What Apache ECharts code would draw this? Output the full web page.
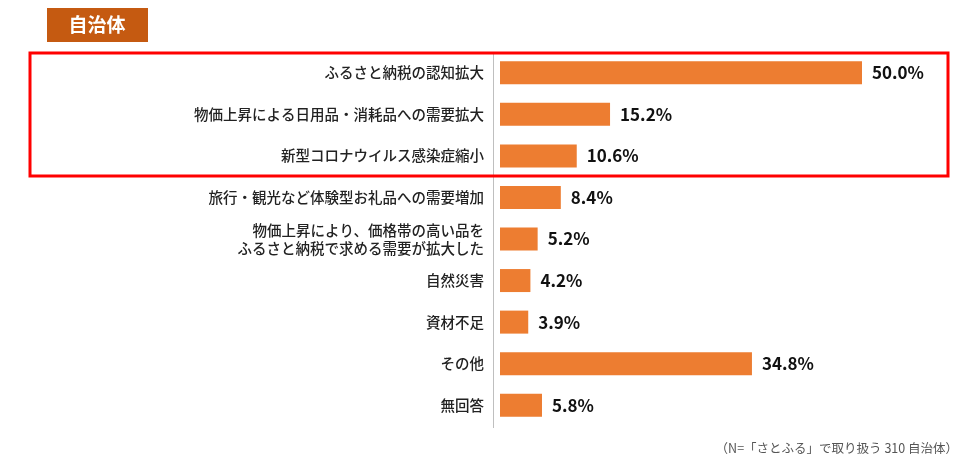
<!DOCTYPE html>
<html>
<head>
<meta charset="utf-8">
<script src="https://cdn.jsdelivr.net/npm/echarts@6/dist/echarts.min.js"></script>
</head>
<body style="margin:0">
<div id="main" style="width:980px;height:471px"></div>
<script>
var categories = ['ふるさと納税の認知拡大', '物価上昇による日用品・消耗品への需要拡大', '新型コロナウイルス感染症縮小',
  '旅行・観光など体験型お礼品への需要増加', '物価上昇により、価格帯の高い品を\nふるさと納税で求める需要が拡大した',
  '自然災害', '資材不足', 'その他', '無回答'];
var values = [50.0, 15.2, 10.6, 8.4, 5.2, 4.2, 3.9, 34.8, 5.8];

var chart = echarts.init(document.getElementById('main'));
var font = '"Noto Sans CJK JP", sans-serif';
chart.setOption({
  animation: false,
  textStyle: { fontFamily: font },
  grid: { left: 500, top: 52, width: 362, height: 374 },
  xAxis: { type: 'value', min: 0, max: 50, show: false },
  yAxis: {
    type: 'category', inverse: true, data: categories,
    axisLine: { show: false },
    axisTick: { show: false },
    axisLabel: { color: '#222', fontSize: 14.5, fontWeight: 500, margin: 16, lineHeight: 18, fontFamily: font }
  },
  series: [{
    type: 'bar', data: values, barWidth: 23,
    itemStyle: { color: '#ED7D31' },
    label: {
      show: true, position: 'right', distance: 10, color: '#111', fontSize: 17, fontWeight: 'bold',
      fontFamily: font,
      formatter: function (p) { return p.value.toFixed(1) + '%'; }
    }
  }],
  graphic: [
    { type: 'line', shape: { x1: 493.5, y1: 52, x2: 493.5, y2: 428 }, style: { stroke: '#bfbfbf', lineWidth: 1 } },
    { type: 'rect', shape: { x: 47, y: 8, width: 101, height: 34 }, style: { fill: '#C55A11' } },
    { type: 'text', x: 97, y: 25, style: { text: '自治体', fill: '#fff', fontSize: 19, fontWeight: 'bold',
      fontFamily: font, align: 'center', verticalAlign: 'middle' } },
    { type: 'rect', shape: { x: 30, y: 53, width: 918, height: 123 },
      style: { fill: 'none', stroke: '#FF0000', lineWidth: 3 } },
    { type: 'text', right: 22, top: 442, style: { text: '（N=「さとふる」で取り扱う 310 自治体）', fill: '#555',
      fontSize: 12.5, fontFamily: font } }
  ]
});
</script>
</body>
</html>
